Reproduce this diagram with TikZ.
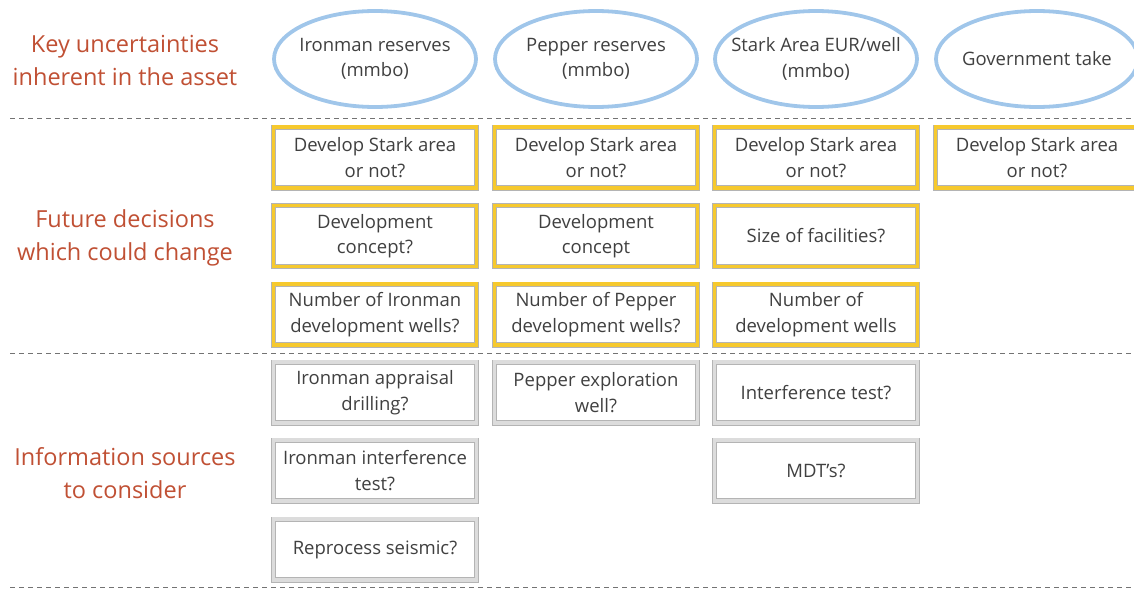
\documentclass[tikz,border=0pt]{standalone}
\usepackage{fontspec}
\setmainfont{Open Sans}
\usetikzlibrary{shapes.geometric}

\definecolor{labelred}{RGB}{192,80,52}
\definecolor{ovalblue}{RGB}{160,198,234}
\definecolor{deciyellow}{RGB}{246,201,46}
\definecolor{boxedge}{RGB}{180,180,180}
\definecolor{infogray}{RGB}{220,220,220}
\definecolor{textgray}{RGB}{64,64,64}

\tikzset{
	rowlabel/.style={text=labelred, align=center, font=\fontsize{23.5}{33}\selectfont},
	boxtext/.style={text=textgray, align=center, font=\fontsize{18.5}{25.5}\selectfont},
	uncert/.style={boxtext, ellipse, draw=ovalblue, line width=3.8pt, minimum width=202pt, minimum height=96pt, inner xsep=-45pt, inner ysep=-12pt},
	framed/.style={boxtext, rectangle, draw=boxedge, line width=0.9pt, double distance=3.4pt, minimum width=202.8pt, minimum height=60.8pt, inner sep=0pt},
	decision/.style={framed, double=deciyellow},
	infobox/.style={framed, double=infogray},
	sepline/.style={draw=black!55, line width=1pt, dash pattern=on 5pt off 4pt}
}

\begin{document}
\begin{tikzpicture}[x=1pt, y=-1pt]

	\useasboundingbox (0,0) rectangle (1134,589);
	\clip (0,0) rectangle (1134,589);

	% row labels
	\node[rowlabel] (lbluncert) at (125,60) {Key uncertainties\\inherent in the asset};
	\node[rowlabel] (lbldecide) at (125,238) {Future decisions\\which could change};
	\node[rowlabel] (lblinfo) at (125,473) {Information sources\\to consider};

	% separators
	\coordinate (sepa) at (10,118);
	\coordinate (sepb) at (10,353);
	\coordinate (sepc) at (10,587);
	\foreach \s in {sepa, sepb, sepc}
		\draw[sepline] (\s) -- ++(1130,0);

	% key uncertainties
	\node[uncert] (ironres) at (375,59) {Ironman reserves\\(mmbo)};
	\node[uncert] (pepres) at (596,59) {Pepper reserves\\(mmbo)};
	\node[uncert] (starkeur) at (816,59) {Stark Area EUR/well\\(mmbo)};
	\node[uncert] (govtake) at (1037,59) {Government take};

	% future decisions
	\foreach \col/\x in {1/375, 2/596, 3/816, 4/1037}
		\node[decision] (devstark\col) at (\x,157.5) {Develop Stark area\\or not?};
	\node[decision] (concept1) at (375,236) {Development\\concept?};
	\node[decision] (concept2) at (596,236) {Development\\concept};
	\node[decision] (facsize) at (816,236) {Size of facilities?};
	\node[decision] (ironwells) at (375,314.5) {Number of Ironman\\development wells?};
	\node[decision] (pepwells) at (596,314.5) {Number of Pepper\\development wells?};
	\node[decision] (devwells) at (816,314.5) {Number of\\development wells};

	% information sources
	\node[infobox] (ironappr) at (375,392.5) {Ironman appraisal\\drilling?};
	\node[infobox] (pepexpl) at (596,392.5) {Pepper exploration\\well?};
	\node[infobox] (interf) at (816,392.5) {Interference test?};
	\node[infobox] (ironinterf) at (375,470.5) {Ironman interference\\test?};
	\node[infobox] (mdt) at (816,470.5) {MDT{\char"0027}s?};
	\node[infobox] (seismic) at (375,549.5) {Reprocess seismic?};

\end{tikzpicture}
\end{document}
